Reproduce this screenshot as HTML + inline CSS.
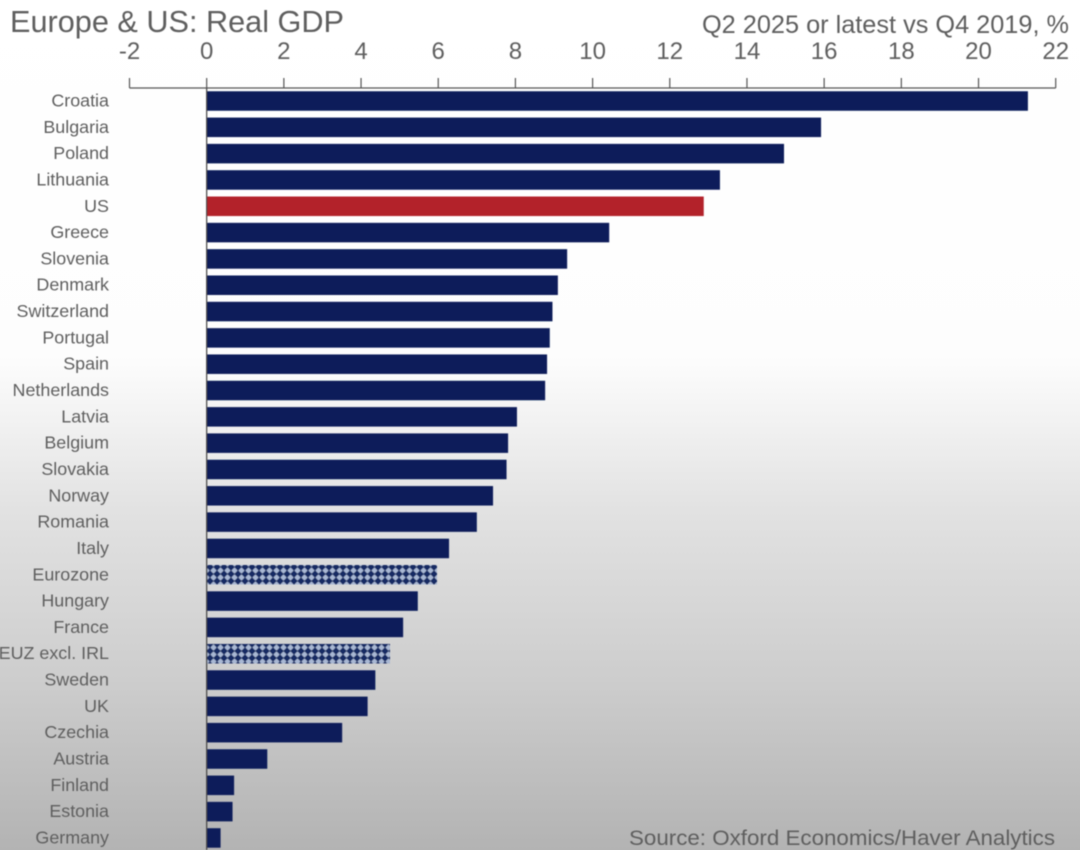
<!DOCTYPE html>
<html lang="en">
<head>
<meta charset="utf-8">
<title>Europe &amp; US: Real GDP</title>
<style>
html,body{margin:0;padding:0;width:1080px;height:850px;overflow:hidden;background:#fff}
svg{display:block;font-family:"Liberation Sans",sans-serif}
text{fill:#5f5f5f}
</style>
</head>
<body>
<svg id="chart" xmlns="http://www.w3.org/2000/svg" width="1080" height="850" viewBox="0 0 1080 850">
  <defs>
    <linearGradient id="bg" x1="0" y1="0" x2="0" y2="1">
      <stop offset="0" stop-color="#ffffff"/>
      <stop offset="0.42" stop-color="#fdfdfd"/>
      <stop offset="0.6" stop-color="#e2e2e2"/>
      <stop offset="0.8" stop-color="#cdcdcd"/>
      <stop offset="1" stop-color="#b3b3b3"/>
    </linearGradient>
    <pattern id="hatch" width="7" height="7" patternUnits="userSpaceOnUse">
      <rect width="7" height="7" fill="#142a63"/>
      <path d="M3.5 0.4 L6.6 3.5 L3.5 6.6 L0.4 3.5 Z" fill="#a9b8d4"/>
    </pattern>
    <filter id="soft" x="-2%" y="-2%" width="104%" height="104%"><feGaussianBlur stdDeviation="0.45"/></filter>
  </defs>
  <rect width="1080" height="850" fill="url(#bg)"/>
  <g id="plot" filter="url(#soft)">
    <text x="10" y="32" font-size="30.5" textLength="334" lengthAdjust="spacingAndGlyphs">Europe &amp; US: Real GDP</text>
    <text x="1069" y="33" font-size="25" text-anchor="end" textLength="367" lengthAdjust="spacingAndGlyphs">Q2 2025 or latest vs Q4 2019, %</text>
    <text x="1055" y="845" font-size="21" text-anchor="end" textLength="426" lengthAdjust="spacingAndGlyphs">Source: Oxford Economics/Haver Analytics</text>
    <g id="bars"></g>
    <g id="xaxis"></g>
    <g id="labels"></g>
  </g>
</svg>
<script>
const categories = ["Croatia","Bulgaria","Poland","Lithuania","US","Greece","Slovenia","Denmark","Switzerland","Portugal","Spain","Netherlands","Latvia","Belgium","Slovakia","Norway","Romania","Italy","Eurozone","Hungary","France","EUZ excl. IRL","Sweden","UK","Czechia","Austria","Finland","Estonia","Germany"];
const gdpChange = [21.28,15.92,14.96,13.3,12.88,10.43,9.34,9.1,8.96,8.89,8.82,8.77,8.04,7.81,7.77,7.42,7.0,6.28,5.97,5.47,5.09,4.75,4.37,4.17,3.51,1.57,0.71,0.67,0.36];
const xTicks = [-2,0,2,4,6,8,10,12,14,16,18,20,22];
const highlighted = ["US"];
const aggregates = ["Eurozone","EUZ excl. IRL"];

const NS = "http://www.w3.org/2000/svg";
const xMin = -2, xMax = 22, xLeft = 129.5, xRight = 1055.7;
const rowTop = 101, rowStep = 26.32, barH = 19.5;
const axisY = 88;
function xScale(v){ return xLeft + (v - xMin) * (xRight - xLeft) / (xMax - xMin); }
function yScale(i){ return rowTop + i * rowStep; }
function make(tag, attrs, parent){
  const el = document.createElementNS(NS, tag);
  for (const k in attrs) el.setAttribute(k, attrs[k]);
  parent.appendChild(el);
  return el;
}
const barsG = document.getElementById("bars");
const axisG = document.getElementById("xaxis");
const labelsG = document.getElementById("labels");

categories.forEach(function(name, i){
  let fill = "#0a1f5a";
  if (highlighted.includes(name)) fill = "#b3202a";
  if (aggregates.includes(name)) fill = "url(#hatch)";
  const x0 = xScale(0), x1 = xScale(gdpChange[i]);
  const bar = make("rect", {x: Math.min(x0, x1), y: yScale(i) - barH / 2, width: Math.abs(x1 - x0), height: barH, fill: fill}, barsG);
  
  
  const lab = make("text", {x: 109, y: yScale(i) + 5.5, "font-size": 17.9, "text-anchor": "end"}, labelsG);
  lab.textContent = name;
  
  
});

const axisLine = make("line", {x1: xLeft, x2: xRight, y1: axisY, y2: axisY, stroke: "#555", "stroke-width": 1.2}, axisG);



const zeroLine = make("line", {x1: xScale(0), x2: xScale(0), y1: axisY, y2: 850, stroke: "#444", "stroke-width": 1.2}, axisG);



xTicks.forEach(function(t){
  const tick = make("line", {x1: xScale(t), x2: xScale(t), y1: 78, y2: axisY, stroke: "#555", "stroke-width": 1.2}, axisG);
  
  
  const lab = make("text", {x: xScale(t), y: 59, "font-size": 24, "text-anchor": "middle"}, axisG);
  lab.textContent = String(t);
  
  
});
</script>
</body>
</html>
